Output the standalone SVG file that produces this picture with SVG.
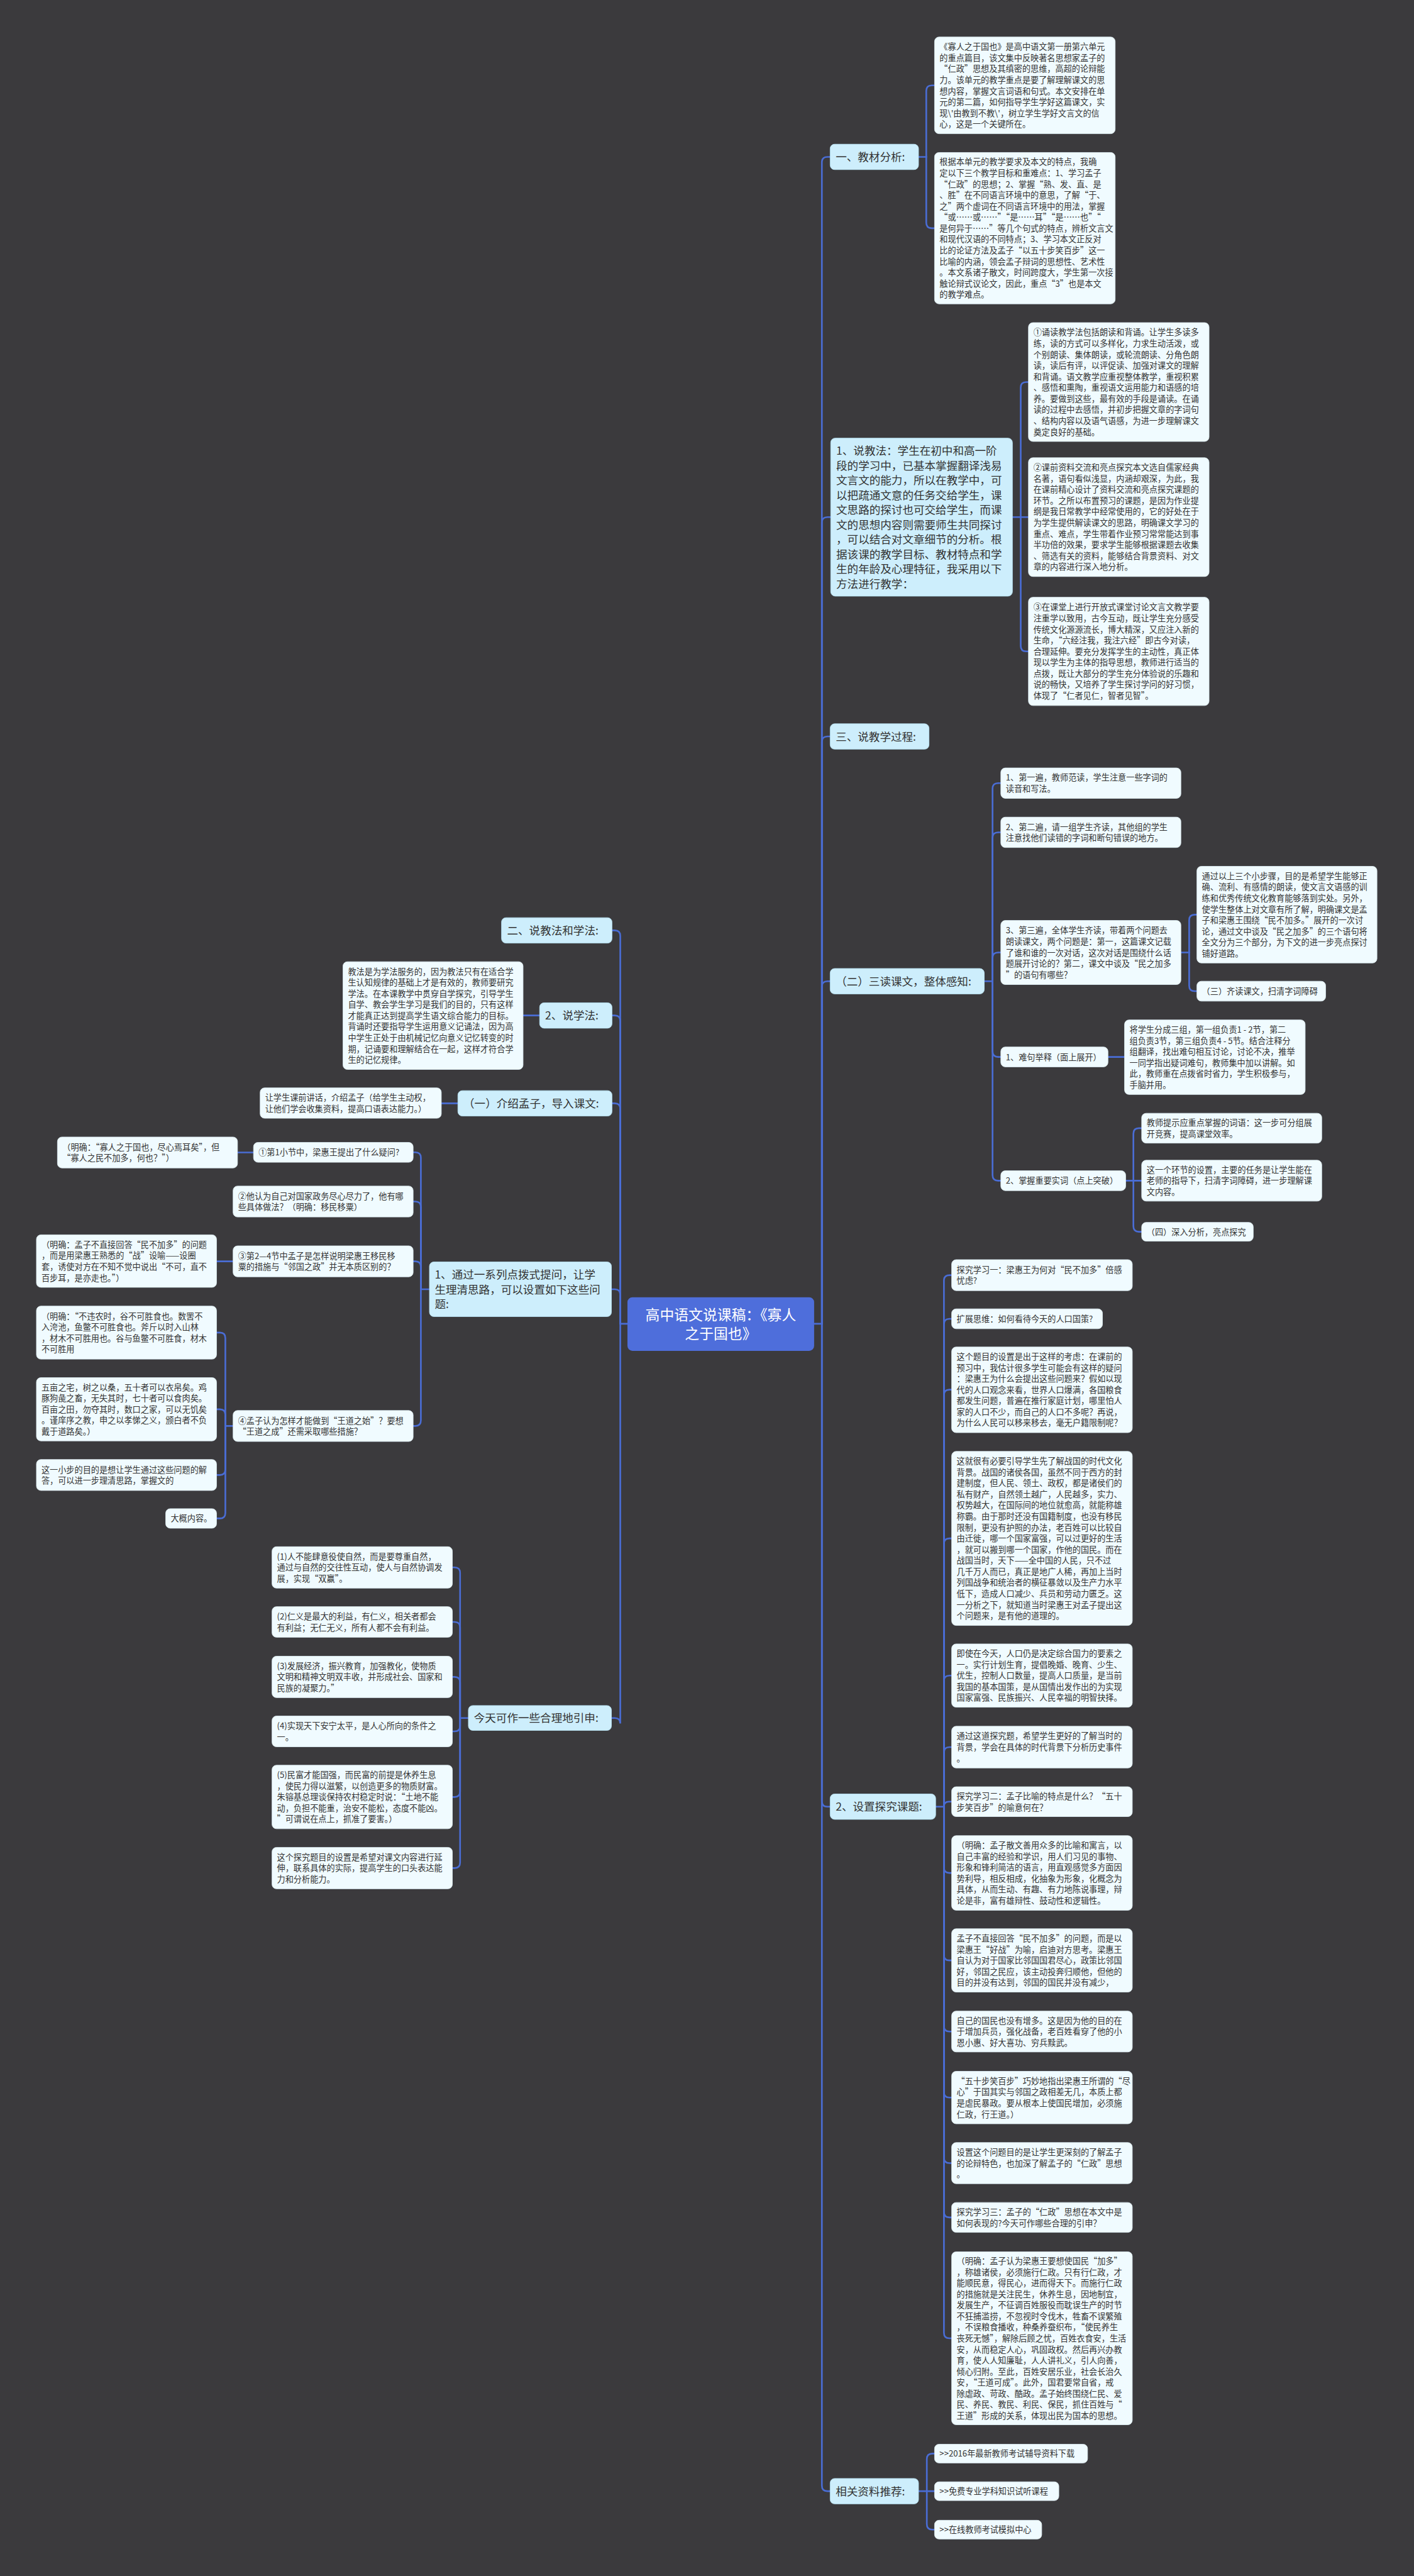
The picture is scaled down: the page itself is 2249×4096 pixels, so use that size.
<svg xmlns="http://www.w3.org/2000/svg" width="2249" height="4096" viewBox="0 0 2249 4096">
<style>
.leaf{fill:#f0fbff;stroke:#dfeef5;stroke-width:1}
.l1{fill:#cdeefc;stroke:#b9e3f5;stroke-width:1}
.root{fill:#4e6edb}
.t15{font-family:"Noto Sans CJK SC","Noto Sans",sans-serif;font-size:15px;fill:#333333}
.t20{font-family:"Noto Sans CJK SC","Noto Sans",sans-serif;font-size:20px;fill:#333333}
.t26{font-family:"Noto Sans CJK SC","Noto Sans",sans-serif;font-size:26px;fill:#ffffff}
.conn path{fill:none;stroke:#4a6dd5;stroke-width:3;stroke-linecap:round}
</style>
<rect width="2249" height="4096" fill="#3b3a3d"/>
<g transform="scale(0.8785)">
<g id="connectors" class="conn">
<path d="M1474,2396 H1488"/>
<path d="M1488,2396 V294 Q1488,284 1498,284 H1503"/>
<path d="M1488,2396 V946 Q1488,936 1498,936 H1504"/>
<path d="M1488,2396 V1343 Q1488,1333 1498,1333 H1503"/>
<path d="M1488,2396 V1786 Q1488,1776 1498,1776 H1503"/>
<path d="M1488,2396 V3260 Q1488,3270 1498,3270 H1503"/>
<path d="M1488,2396 V4499 Q1488,4509 1498,4509 H1503"/>
<path d="M1136,2396 H1123"/>
<path d="M1123,2396 V1694 Q1123,1684 1113,1684 H1108"/>
<path d="M1123,2396 V1848 Q1123,1838 1113,1838 H1108"/>
<path d="M1123,2396 V2007 Q1123,1997 1113,1997 H1108"/>
<path d="M1123,2396 V2343.5 Q1123,2333.5 1113,2333.5 H1107"/>
<path d="M1123,2396 V3119.5 Q1123,3109.5 1113,3109.5 H1107"/>
<path d="M1663,284 H1677"/>
<path d="M1677,284 V164.5 Q1677,154.5 1687,154.5 H1692"/>
<path d="M1677,284 V403 Q1677,413 1687,413 H1692"/>
<path d="M1833,936 H1862"/>
<path d="M1848,936 V701.5 Q1848,691.5 1858,691.5 H1862"/>
<path d="M1848,936 V1169 Q1848,1179 1858,1179 H1862"/>
<path d="M1782,1776 H1797"/>
<path d="M1797,1776 V1427.5 Q1797,1417.5 1807,1417.5 H1812"/>
<path d="M1797,1776 V1516.5 Q1797,1506.5 1807,1506.5 H1812"/>
<path d="M1797,1776 V1734 Q1797,1724 1807,1724 H1812"/>
<path d="M1797,1776 V1903 Q1797,1913 1807,1913 H1812"/>
<path d="M1797,1776 V2127 Q1797,2137 1807,2137 H1812"/>
<path d="M2138,1724 H2153"/>
<path d="M2153,1724 V1665.5 Q2153,1655.5 2163,1655.5 H2167"/>
<path d="M2153,1724 V1784 Q2153,1794 2163,1794 H2167"/>
<path d="M2006,1913 H2036"/>
<path d="M2038,2137 H2067"/>
<path d="M2052,2137 V2052 Q2052,2042 2062,2042 H2067"/>
<path d="M2052,2137 V2219.5 Q2052,2229.5 2062,2229.5 H2067"/>
<path d="M1694,3270 H1709"/>
<path d="M1709,3270 V2318 Q1709,2308 1719,2308 H1723"/>
<path d="M1709,3270 V2397 Q1709,2387 1719,2387 H1723"/>
<path d="M1709,3270 V2525.3 Q1709,2515.3 1719,2515.3 H1723"/>
<path d="M1709,3270 V2794.5 Q1709,2784.5 1719,2784.5 H1723"/>
<path d="M1709,3270 V3042.75 Q1709,3032.75 1719,3032.75 H1723"/>
<path d="M1709,3270 V3172.25 Q1709,3162.25 1719,3162.25 H1723"/>
<path d="M1709,3270 Q1709,3261 1718,3261 H1723"/>
<path d="M1709,3270 V3380 Q1709,3390 1719,3390 H1723"/>
<path d="M1709,3270 V3538.3 Q1709,3548.3 1719,3548.3 H1723"/>
<path d="M1709,3270 V3667 Q1709,3677 1719,3677 H1723"/>
<path d="M1709,3270 V3786.5 Q1709,3796.5 1719,3796.5 H1723"/>
<path d="M1709,3270 V3905.2 Q1709,3915.2 1719,3915.2 H1723"/>
<path d="M1709,3270 V4003.5 Q1709,4013.5 1719,4013.5 H1723"/>
<path d="M1709,3270 V4222.2 Q1709,4232.2 1719,4232.2 H1723"/>
<path d="M1663,4509 H1692"/>
<path d="M1678,4509 V4451 Q1678,4441 1688,4441 H1692"/>
<path d="M1678,4509 V4568.6 Q1678,4578.6 1688,4578.6 H1692"/>
<path d="M947,1838 H977"/>
<path d="M799,1997 H829"/>
<path d="M777,2333.5 H762"/>
<path d="M762,2333.5 V2095.7 Q762,2085.7 752,2085.7 H748"/>
<path d="M762,2333.5 V2184.7 Q762,2174.7 752,2174.7 H748"/>
<path d="M762,2333.5 V2293 Q762,2283 752,2283 H748"/>
<path d="M762,2333.5 V2571 Q762,2581 752,2581 H748"/>
<path d="M430,2086 H459"/>
<path d="M392,2283 H422"/>
<path d="M422,2581 H408"/>
<path d="M408,2581 V2422 Q408,2412 398,2412 H392"/>
<path d="M408,2581 V2560.75 Q408,2550.75 398,2550.75 H392"/>
<path d="M408,2581 V2659.7 Q408,2669.7 398,2669.7 H392"/>
<path d="M408,2581 V2738.35 Q408,2748.35 398,2748.35 H392"/>
<path d="M848,3109.5 H833"/>
<path d="M833,3109.5 V2847 Q833,2837 823,2837 H819"/>
<path d="M833,3109.5 V2945.7 Q833,2935.7 823,2935.7 H819"/>
<path d="M833,3109.5 V3045.2 Q833,3035.2 823,3035.2 H819"/>
<path d="M833,3109.5 V3123.8 Q833,3133.8 823,3133.8 H819"/>
<path d="M833,3109.5 V3242.5 Q833,3252.5 823,3252.5 H819"/>
<path d="M833,3109.5 V3371.2 Q833,3381.2 823,3381.2 H819"/>
</g>

<g id="root">
<rect class="root" x="1136" y="2348" width="338" height="97" rx="9"/>
<text class="t26" text-anchor="middle"><tspan x="1305" y="2389.5">高中语文说课稿：《寡人</tspan><tspan x="1305" y="2423.9">之于国也》</tspan></text>
</g>

<g id="n-jiaocai">
<rect class="l1" x="1503" y="261" width="160" height="46" rx="8"/>
<text class="t20" x="1513" y="291.6">一、教材分析:</text>
</g>
<g id="a1">
<rect class="leaf" x="1692" y="67" width="327" height="175" rx="8"/>
<text class="t15"><tspan x="1701" y="90.2">《寡人之于国也》是高中语文第一册第六单元</tspan><tspan x="1701" y="110.2">的重点篇目，该文集中反映著名思想家孟子的</tspan><tspan x="1701" y="130.2">“仁政”思想及其缜密的思维，高超的论辩能</tspan><tspan x="1701" y="150.2">力。该单元的教学重点是要了解理解课文的思</tspan><tspan x="1701" y="170.2">想内容，掌握文言词语和句式。本文安排在单</tspan><tspan x="1701" y="190.2">元的第二篇，如何指导学生学好这篇课文，实</tspan><tspan x="1701" y="210.2">现\'由教到不教\'，树立学生学好文言文的信</tspan><tspan x="1701" y="230.2">心，这是一个关键所在。</tspan></text>
</g>
<g id="a2">
<rect class="leaf" x="1692" y="276" width="327" height="274" rx="8"/>
<text class="t15"><tspan x="1701" y="298.7">根据本单元的教学要求及本文的特点，我确</tspan><tspan x="1701" y="318.7">定以下三个教学目标和重难点：1、学习孟子</tspan><tspan x="1701" y="338.7">“仁政”的思想；2、掌握“熟、发、直、是</tspan><tspan x="1701" y="358.7">、胜”在不同语言环境中的意思，了解“于、</tspan><tspan x="1701" y="378.7">之”两个虚词在不同语言环境中的用法，掌握</tspan><tspan x="1701" y="398.7">“或……或……”“是……耳”“是……也”“</tspan><tspan x="1701" y="418.7">是何异于……”等几个句式的特点，辨析文言文</tspan><tspan x="1701" y="438.7">和现代汉语的不同特点；3、学习本文正反对</tspan><tspan x="1701" y="458.7">比的论证方法及孟子“以五十步笑百步”这一</tspan><tspan x="1701" y="478.7">比喻的内涵，领会孟子辩词的思想性、艺术性</tspan><tspan x="1701" y="498.7">。本文系诸子散文，时间跨度大，学生第一次接</tspan><tspan x="1701" y="518.7">触论辩式议论文，因此，重点“3”也是本文</tspan><tspan x="1701" y="538.7">的教学难点。</tspan></text>
</g>

<g id="n-shuojiaofa">
<rect class="l1" x="1504" y="793" width="329" height="286" rx="8"/>
<text class="t20"><tspan x="1514" y="823">1、说教法：学生在初中和高一阶</tspan><tspan x="1514" y="849.8">段的学习中，已基本掌握翻译浅易</tspan><tspan x="1514" y="876.6">文言文的能力，所以在教学中，可</tspan><tspan x="1514" y="903.4">以把疏通文意的任务交给学生，课</tspan><tspan x="1514" y="930.2">文思路的探讨也可交给学生，而课</tspan><tspan x="1514" y="957">文的思想内容则需要师生共同探讨</tspan><tspan x="1514" y="983.8">，可以结合对文章细节的分析。根</tspan><tspan x="1514" y="1010.6">据该课的教学目标、教材特点和学</tspan><tspan x="1514" y="1037.4">生的年龄及心理特征，我采用以下</tspan><tspan x="1514" y="1064.2">方法进行教学：</tspan></text>
</g>
<g id="b1">
<rect class="leaf" x="1862" y="584" width="327" height="215" rx="8"/>
<text class="t15"><tspan x="1871" y="607.2">①诵读教学法包括朗读和背诵。让学生多读多</tspan><tspan x="1871" y="627.2">练，读的方式可以多样化，力求生动活泼，或</tspan><tspan x="1871" y="647.2">个别朗读、集体朗读，或轮流朗读、分角色朗</tspan><tspan x="1871" y="667.2">读，读后有评，以评促读、加强对课文的理解</tspan><tspan x="1871" y="687.2">和背诵。语文教学应重视整体教学，重视积累</tspan><tspan x="1871" y="707.2">、感悟和熏陶，重视语文运用能力和语感的培</tspan><tspan x="1871" y="727.2">养。要做到这些，最有效的手段是诵读。在诵</tspan><tspan x="1871" y="747.2">读的过程中去感悟，并初步把握文章的字词句</tspan><tspan x="1871" y="767.2">、结构内容以及语气语感，为进一步理解课文</tspan><tspan x="1871" y="787.2">奠定良好的基础。</tspan></text>
</g>
<g id="b2">
<rect class="leaf" x="1862" y="828.5" width="327" height="215" rx="8"/>
<text class="t15"><tspan x="1871" y="851.7">②课前资料交流和亮点探究本文选自儒家经典</tspan><tspan x="1871" y="871.7">名著，语句看似浅显，内涵却艰深，为此，我</tspan><tspan x="1871" y="891.7">在课前精心设计了资料交流和亮点探究课题的</tspan><tspan x="1871" y="911.7">环节。之所以布置预习的课题，是因为作业提</tspan><tspan x="1871" y="931.7">纲是我日常教学中经常使用的，它的好处在于</tspan><tspan x="1871" y="951.7">为学生提供解读课文的思路，明确课文学习的</tspan><tspan x="1871" y="971.7">重点、难点，学生带着作业预习常常能达到事</tspan><tspan x="1871" y="991.7">半功倍的效果，要求学生能够根据课题去收集</tspan><tspan x="1871" y="1011.7">、筛选有关的资料，能够结合背景资料、对文</tspan><tspan x="1871" y="1031.7">章的内容进行深入地分析。</tspan></text>
</g>
<g id="b3">
<rect class="leaf" x="1862" y="1081" width="327" height="196" rx="8"/>
<text class="t15"><tspan x="1871" y="1104.7">③在课堂上进行开放式课堂讨论文言文教学要</tspan><tspan x="1871" y="1124.7">注重学以致用，古今互动，既让学生充分感受</tspan><tspan x="1871" y="1144.7">传统文化源源流长，博大精深，又应注入新的</tspan><tspan x="1871" y="1164.7">生命，“六经注我，我注六经”即古今对读，</tspan><tspan x="1871" y="1184.7">合理延伸。要充分发挥学生的主动性，真正体</tspan><tspan x="1871" y="1204.7">现以学生为主体的指导思想，教师进行适当的</tspan><tspan x="1871" y="1224.7">点拨，既让大部分的学生充分体验说的乐趣和</tspan><tspan x="1871" y="1244.7">说的畅快，又培养了学生探讨学问的好习惯，</tspan><tspan x="1871" y="1264.7">体现了“仁者见仁，智者见智”。</tspan></text>
</g>

<g id="n-guocheng">
<rect class="l1" x="1503" y="1310" width="179" height="46" rx="8"/>
<text class="t20" x="1513" y="1340.6">三、说教学过程:</text>
</g>

<g id="n-sandu">
<rect class="l1" x="1503" y="1753" width="279" height="46" rx="8"/>
<text class="t20" x="1513" y="1783.6">（二）三读课文，整体感知:</text>
</g>
<g id="c1">
<rect class="leaf" x="1812" y="1390" width="326" height="55" rx="8"/>
<text class="t15"><tspan x="1821" y="1413.2">1、第一遍，教师范读，学生注意一些字词的</tspan><tspan x="1821" y="1433.2">读音和写法。</tspan></text>
</g>
<g id="c2">
<rect class="leaf" x="1812" y="1479" width="326" height="55" rx="8"/>
<text class="t15"><tspan x="1821" y="1502.2">2、第二遍，请一组学生齐读，其他组的学生</tspan><tspan x="1821" y="1522.2">注意找他们读错的字词和断句错误的地方。</tspan></text>
</g>
<g id="c3">
<rect class="leaf" x="1812" y="1666" width="326" height="116" rx="8"/>
<text class="t15"><tspan x="1821" y="1689.7">3、第三遍，全体学生齐读，带着两个问题去</tspan><tspan x="1821" y="1709.7">朗读课文，两个问题是：第一，这篇课文记载</tspan><tspan x="1821" y="1729.7">了谁和谁的一次对话，这次对话是围绕什么话</tspan><tspan x="1821" y="1749.7">题展开讨论的？第二，课文中谈及“民之加多</tspan><tspan x="1821" y="1769.7">”的语句有哪些？</tspan></text>
</g>
<g id="c3a">
<rect class="leaf" x="2167" y="1568" width="326" height="175" rx="8"/>
<text class="t15"><tspan x="2176" y="1591.2">通过以上三个小步骤，目的是希望学生能够正</tspan><tspan x="2176" y="1611.2">确、流利、有感情的朗读，使文言文语感的训</tspan><tspan x="2176" y="1631.2">练和优秀传统文化教育能够落到实处。另外，</tspan><tspan x="2176" y="1651.2">使学生整体上对文章有所了解，明确课文是孟</tspan><tspan x="2176" y="1671.2">子和梁惠王围绕“民不加多。”展开的一次讨</tspan><tspan x="2176" y="1691.2">论，通过文中谈及“民之加多”的三个语句将</tspan><tspan x="2176" y="1711.2">全文分为三个部分，为下文的进一步亮点探讨</tspan><tspan x="2176" y="1731.2">铺好道路。</tspan></text>
</g>
<g id="c3b">
<rect class="leaf" x="2167" y="1776" width="233" height="36" rx="8"/>
<text class="t15" x="2176" y="1799.7">（三）齐读课文，扫清字词障碍</text>
</g>
<g id="c4">
<rect class="leaf" x="1812" y="1895" width="194" height="36" rx="8"/>
<text class="t15" x="1821" y="1918.7">1、难句举释（面上展开）</text>
</g>
<g id="c4a">
<rect class="leaf" x="2036" y="1846" width="327" height="135" rx="8"/>
<text class="t15"><tspan x="2045" y="1869.2">将学生分成三组，第一组负责1 - 2节，第二</tspan><tspan x="2045" y="1889.2">组负责3节，第三组负责4 - 5节。结合注释分</tspan><tspan x="2045" y="1909.2">组翻译，找出难句相互讨论，讨论不决，推举</tspan><tspan x="2045" y="1929.2">一同学指出疑词难句，教师集中加以讲解。如</tspan><tspan x="2045" y="1949.2">此，教师重在点拨省时省力，学生积极参与，</tspan><tspan x="2045" y="1969.2">手脑并用。</tspan></text>
</g>
<g id="c5">
<rect class="leaf" x="1812" y="2119" width="226" height="36" rx="8"/>
<text class="t15" x="1821" y="2142.7">2、掌握重要实词（点上突破）</text>
</g>
<g id="c5a">
<rect class="leaf" x="2067" y="2015" width="326" height="54" rx="8"/>
<text class="t15"><tspan x="2076" y="2037.7">教师提示应重点掌握的词语：这一步可分组展</tspan><tspan x="2076" y="2057.7">开竞赛，提高课堂效率。</tspan></text>
</g>
<g id="c5b">
<rect class="leaf" x="2067" y="2100" width="326" height="74" rx="8"/>
<text class="t15"><tspan x="2076" y="2122.7">这一个环节的设置，主要的任务是让学生能在</tspan><tspan x="2076" y="2142.7">老师的指导下，扫清字词障碍，进一步理解课</tspan><tspan x="2076" y="2162.7">文内容。</tspan></text>
</g>
<g id="c5c">
<rect class="leaf" x="2067" y="2212.5" width="202" height="34" rx="8"/>
<text class="t15" x="2076" y="2235.2">（四）深入分析，亮点探究</text>
</g>

<g id="n-tanjiu">
<rect class="l1" x="1503" y="3247" width="191" height="46" rx="8"/>
<text class="t20" x="1513" y="3277.6">2、设置探究课题:</text>
</g>
<g id="d1">
<rect class="leaf" x="1723" y="2280" width="327" height="56" rx="8"/>
<text class="t15"><tspan x="1732" y="2303.7">探究学习一：梁惠王为何对“民不加多”倍感</tspan><tspan x="1732" y="2323.7">忧虑?</tspan></text>
</g>
<g id="d2">
<rect class="leaf" x="1723" y="2369" width="273" height="36" rx="8"/>
<text class="t15" x="1732" y="2392.7">扩展思维：如何看待今天的人口国策?</text>
</g>
<g id="d3">
<rect class="leaf" x="1723" y="2438" width="327" height="155" rx="8"/>
<text class="t15"><tspan x="1732" y="2461">这个题目的设置是出于这样的考虑：在课前的</tspan><tspan x="1732" y="2481">预习中，我估计很多学生可能会有这样的疑问</tspan><tspan x="1732" y="2501">：梁惠王为什么会提出这些问题来？假如以现</tspan><tspan x="1732" y="2521">代的人口观念来看，世界人口爆满，各国粮食</tspan><tspan x="1732" y="2541">都发生问题，普遍在推行家庭计划，哪里怕人</tspan><tspan x="1732" y="2561">家的人口不少，而自己的人口不多呢？再说，</tspan><tspan x="1732" y="2581">为什么人民可以移来移去，毫无户籍限制呢？</tspan></text>
</g>
<g id="d4">
<rect class="leaf" x="1723" y="2627" width="327" height="315" rx="8"/>
<text class="t15"><tspan x="1732" y="2650.2">这就很有必要引导学生先了解战国的时代文化</tspan><tspan x="1732" y="2670.2">背景。战国的诸侯各国，虽然不同于西方的封</tspan><tspan x="1732" y="2690.2">建制度，但人民、领土、政权，都是诸侯们的</tspan><tspan x="1732" y="2710.2">私有财产，自然领土越广，人民越多，实力、</tspan><tspan x="1732" y="2730.2">权势越大，在国际间的地位就愈高，就能称雄</tspan><tspan x="1732" y="2750.2">称霸。由于那时还没有国籍制度，也没有移民</tspan><tspan x="1732" y="2770.2">限制，更没有护照的办法，老百姓可以比较自</tspan><tspan x="1732" y="2790.2">由迁徙，哪一个国家富强，可以过更好的生活</tspan><tspan x="1732" y="2810.2">，就可以搬到哪一个国家，作他的国民。而在</tspan><tspan x="1732" y="2830.2">战国当时，天下——全中国的人民，只不过</tspan><tspan x="1732" y="2850.2">几千万人而已，真正是地广人稀，再加上当时</tspan><tspan x="1732" y="2870.2">列国战争和统治者的横征暴敛以及生产力水平</tspan><tspan x="1732" y="2890.2">低下，造成人口减少、兵员和劳动力匮乏。这</tspan><tspan x="1732" y="2910.2">一分析之下，就知道当时梁惠王对孟子提出这</tspan><tspan x="1732" y="2930.2">个问题来，是有他的道理的。</tspan></text>
</g>
<g id="d5">
<rect class="leaf" x="1723" y="2975.5" width="327" height="114.5" rx="8"/>
<text class="t15"><tspan x="1732" y="2998.45">即使在今天，人口仍是决定综合国力的要素之</tspan><tspan x="1732" y="3018.45">一。实行计划生育，提倡晚婚、晚育、少生、</tspan><tspan x="1732" y="3038.45">优生，控制人口数量，提高人口质量，是当前</tspan><tspan x="1732" y="3058.45">我国的基本国策，是从国情出发作出的为实现</tspan><tspan x="1732" y="3078.45">国家富强、民族振兴、人民幸福的明智抉择。</tspan></text>
</g>
<g id="d6">
<rect class="leaf" x="1723" y="3124.5" width="327" height="75.5" rx="8"/>
<text class="t15"><tspan x="1732" y="3147.95">通过这道探究题，希望学生更好的了解当时的</tspan><tspan x="1732" y="3167.95">背景，学会在具体的时代背景下分析历史事件</tspan><tspan x="1732" y="3187.95">。</tspan></text>
</g>
<g id="d7">
<rect class="leaf" x="1723" y="3234" width="327" height="54" rx="8"/>
<text class="t15"><tspan x="1732" y="3256.7">探究学习二：孟子比喻的特点是什么？“五十</tspan><tspan x="1732" y="3276.7">步笑百步”的喻意何在？</tspan></text>
</g>
<g id="d8">
<rect class="leaf" x="1723" y="3322.5" width="327" height="135" rx="8"/>
<text class="t15"><tspan x="1732" y="3345.7">（明确：孟子散文善用众多的比喻和寓言，以</tspan><tspan x="1732" y="3365.7">自己丰富的经验和学识，用人们习见的事物、</tspan><tspan x="1732" y="3385.7">形象和锋利简洁的语言，用直观感觉多方面因</tspan><tspan x="1732" y="3405.7">势利导，相反相成，化抽象为形象，化概念为</tspan><tspan x="1732" y="3425.7">具体，从而生动、有趣、有力地陈说事理，辩</tspan><tspan x="1732" y="3445.7">论是非，富有雄辩性、鼓动性和逻辑性。</tspan></text>
</g>
<g id="d9">
<rect class="leaf" x="1723" y="3491" width="327" height="114.6" rx="8"/>
<text class="t15"><tspan x="1732" y="3514">孟子不直接回答“民不加多”的问题，而是以</tspan><tspan x="1732" y="3534">梁惠王“好战”为喻，启迪对方思考。梁惠王</tspan><tspan x="1732" y="3554">自认为对于国家比邻国国君尽心，政策比邻国</tspan><tspan x="1732" y="3574">好，邻国之民应，该主动投奔归顺他，但他的</tspan><tspan x="1732" y="3594">目的并没有达到，邻国的国民并没有减少，</tspan></text>
</g>
<g id="d10">
<rect class="leaf" x="1723" y="3640" width="327" height="74" rx="8"/>
<text class="t15"><tspan x="1732" y="3662.7">自己的国民也没有增多。这是因为他的目的在</tspan><tspan x="1732" y="3682.7">于增加兵员，强化战备，老百姓看穿了他的小</tspan><tspan x="1732" y="3702.7">恩小惠、好大喜功、穷兵黩武。</tspan></text>
</g>
<g id="d11">
<rect class="leaf" x="1723" y="3749" width="327" height="95" rx="8"/>
<text class="t15"><tspan x="1732" y="3772.2">“五十步笑百步”巧妙地指出梁惠王所谓的“尽</tspan><tspan x="1732" y="3792.2">心”于国其实与邻国之政相差无几，本质上都</tspan><tspan x="1732" y="3812.2">是虐民暴政。要从根本上使国民增加，必须施</tspan><tspan x="1732" y="3832.2">仁政，行王道。）</tspan></text>
</g>
<g id="d12">
<rect class="leaf" x="1723" y="3878" width="327" height="74.4" rx="8"/>
<text class="t15"><tspan x="1732" y="3900.9">设置这个问题目的是让学生更深刻的了解孟子</tspan><tspan x="1732" y="3920.9">的论辩特色，也加深了解孟子的“仁政”思想</tspan><tspan x="1732" y="3940.9">。</tspan></text>
</g>
<g id="d13">
<rect class="leaf" x="1723" y="3986.5" width="327" height="54" rx="8"/>
<text class="t15"><tspan x="1732" y="4009.2">探究学习三：孟子的“仁政”思想在本文中是</tspan><tspan x="1732" y="4029.2">如何表现的?今天可作哪些合理的引申？</tspan></text>
</g>
<g id="d14">
<rect class="leaf" x="1723" y="4075.7" width="327" height="313" rx="8"/>
<text class="t15"><tspan x="1732" y="4097.9">（明确：孟子认为梁惠王要想使国民“加多”</tspan><tspan x="1732" y="4117.9">，称雄诸侯，必须施行仁政。只有行仁政，才</tspan><tspan x="1732" y="4137.9">能顺民意，得民心，进而得天下。而施行仁政</tspan><tspan x="1732" y="4157.9">的措施就是关注民生，休养生息，因地制宜，</tspan><tspan x="1732" y="4177.9">发展生产，不征调百姓服役而耽误生产的时节</tspan><tspan x="1732" y="4197.9">不狂捕滥捞，不忽视时令伐木，牲畜不误繁殖</tspan><tspan x="1732" y="4217.9">，不误粮食播收，种桑养蚕织布，“使民养生</tspan><tspan x="1732" y="4237.9">丧死无憾”，解除后顾之忧，百姓衣食安，生活</tspan><tspan x="1732" y="4257.9">安，从而稳定人心，巩固政权。然后再兴办教</tspan><tspan x="1732" y="4277.9">育，使人人知廉耻，人人讲礼义，引人向善，</tspan><tspan x="1732" y="4297.9">倾心归附。至此，百姓安居乐业，社会长治久</tspan><tspan x="1732" y="4317.9">安，“王道可成”。此外，国君要常自省，戒</tspan><tspan x="1732" y="4337.9">除虐政、苛政、酷政。孟子始终围绕仁民、爱</tspan><tspan x="1732" y="4357.9">民、养民、教民、利民、保民，抓住百姓与“</tspan><tspan x="1732" y="4377.9">王道”形成的关系，体现出民为国本的思想。</tspan></text>
</g>

<g id="n-ziliao">
<rect class="l1" x="1503" y="4486" width="160" height="46" rx="8"/>
<text class="t20" x="1513" y="4516.6">相关资料推荐:</text>
</g>
<g id="e1">
<rect class="leaf" x="1692" y="4424" width="277" height="34" rx="8"/>
<text class="t15" x="1701" y="4446.7">&gt;&gt;2016年最新教师考试辅导资料下载</text>
</g>
<g id="e2">
<rect class="leaf" x="1692" y="4492" width="225" height="34" rx="8"/>
<text class="t15" x="1701" y="4514.7">&gt;&gt;免费专业学科知识试听课程</text>
</g>
<g id="e3">
<rect class="leaf" x="1692" y="4561.6" width="194" height="34" rx="8"/>
<text class="t15" x="1701" y="4584.3">&gt;&gt;在线教师考试模拟中心</text>
</g>

<g id="m-jiaofa">
<rect class="l1" x="908" y="1661" width="200" height="46" rx="8"/>
<text class="t20" x="918" y="1691.6">二、说教法和学法:</text>
</g>
<g id="m-xuefa">
<rect class="l1" x="977" y="1815" width="131" height="46" rx="8"/>
<text class="t20" x="987" y="1845.6">2、说学法:</text>
</g>
<g id="f1">
<rect class="leaf" x="621" y="1740.7" width="326" height="195" rx="8"/>
<text class="t15"><tspan x="630" y="1763.9">教法是为学法服务的，因为教法只有在适合学</tspan><tspan x="630" y="1783.9">生认知规律的基础上才是有效的，教师要研究</tspan><tspan x="630" y="1803.9">学法。在本课教学中贯穿自学探究，引导学生</tspan><tspan x="630" y="1823.9">自学、教会学生学习是我们的目的，只有这样</tspan><tspan x="630" y="1843.9">才能真正达到提高学生语文综合能力的目标。</tspan><tspan x="630" y="1863.9">背诵时还要指导学生运用意义记诵法，因为高</tspan><tspan x="630" y="1883.9">中学生正处于由机械记忆向意义记忆转变的时</tspan><tspan x="630" y="1903.9">期，记诵要和理解结合在一起，这样才符合学</tspan><tspan x="630" y="1923.9">生的记忆规律。</tspan></text>
</g>
<g id="m-mengzi">
<rect class="l1" x="829" y="1974" width="279" height="46" rx="8"/>
<text class="t20" x="839" y="2004.6">（一）介绍孟子，导入课文:</text>
</g>
<g id="f2">
<rect class="leaf" x="471" y="1969" width="328" height="55" rx="8"/>
<text class="t15"><tspan x="480" y="1992.2">让学生课前讲话，介绍孟子（给学生主动权，</tspan><tspan x="480" y="2012.2">让他们学会收集资料，提高口语表达能力。）</tspan></text>
</g>

<g id="m-tiwen">
<rect class="l1" x="777.5" y="2284" width="329.5" height="99" rx="8"/>
<text class="t20"><tspan x="787" y="2314.3">1、通过一系列点拨式提问，让学</tspan><tspan x="787" y="2341.1">生理清思路，可以设置如下这些问</tspan><tspan x="787" y="2367.9">题:</tspan></text>
</g>
<g id="g1">
<rect class="leaf" x="459" y="2067.7" width="289" height="36" rx="8"/>
<text class="t15" x="468" y="2091.4">①第1小节中，梁惠王提出了什么疑问?</text>
</g>
<g id="g1a">
<rect class="leaf" x="104" y="2058" width="326" height="56" rx="8"/>
<text class="t15"><tspan x="113" y="2081.7">（明确：“寡人之于国也，尽心焉耳矣”，但</tspan><tspan x="113" y="2101.7">“寡人之民不加多，何也？”）</tspan></text>
</g>
<g id="g2">
<rect class="leaf" x="422" y="2146.7" width="326" height="56" rx="8"/>
<text class="t15"><tspan x="431" y="2170.4">②他认为自己对国家政务尽心尽力了，他有哪</tspan><tspan x="431" y="2190.4">些具体做法？（明确：移民移粟）</tspan></text>
</g>
<g id="g3">
<rect class="leaf" x="422" y="2255" width="326" height="56" rx="8"/>
<text class="t15"><tspan x="431" y="2278.7">③第2—4节中孟子是怎样说明梁惠王移民移</tspan><tspan x="431" y="2298.7">粟的措施与“邻国之政”并无本质区别的？</tspan></text>
</g>
<g id="g3a">
<rect class="leaf" x="66" y="2235" width="326" height="95" rx="8"/>
<text class="t15"><tspan x="75" y="2258.2">（明确：孟子不直接回答“民不加多”的问题</tspan><tspan x="75" y="2278.2">，而是用梁惠王熟悉的“战”设喻——设圈</tspan><tspan x="75" y="2298.2">套，诱使对方在不知不觉中说出“不可，直不</tspan><tspan x="75" y="2318.2">百步耳，是亦走也。”）</tspan></text>
</g>
<g id="g4">
<rect class="leaf" x="422" y="2553" width="326" height="56" rx="8"/>
<text class="t15"><tspan x="431" y="2576.7">④孟子认为怎样才能做到“王道之始”？要想</tspan><tspan x="431" y="2596.7">“王道之成”还需采取哪些措施？</tspan></text>
</g>
<g id="g4a">
<rect class="leaf" x="66" y="2364" width="326" height="96" rx="8"/>
<text class="t15"><tspan x="75" y="2387.7">（明确：“不违农时，谷不可胜食也。数罟不</tspan><tspan x="75" y="2407.7">入洿池，鱼鳖不可胜食也。斧斤以时入山林</tspan><tspan x="75" y="2427.7">，材木不可胜用也。谷与鱼鳖不可胜食，材木</tspan><tspan x="75" y="2447.7">不可胜用</tspan></text>
</g>
<g id="g4b">
<rect class="leaf" x="66" y="2493.5" width="326" height="114.5" rx="8"/>
<text class="t15"><tspan x="75" y="2516.45">五亩之宅，树之以桑，五十者可以衣帛矣。鸡</tspan><tspan x="75" y="2536.45">豚狗彘之畜，无失其时，七十者可以食肉矣。</tspan><tspan x="75" y="2556.45">百亩之田，勿夺其时，数口之家，可以无饥矣</tspan><tspan x="75" y="2576.45">。谨庠序之教，申之以孝悌之义，颁白者不负</tspan><tspan x="75" y="2596.45">戴于道路矣。）</tspan></text>
</g>
<g id="g4c">
<rect class="leaf" x="66" y="2641.7" width="326" height="56" rx="8"/>
<text class="t15"><tspan x="75" y="2665.4">这一小步的目的是想让学生通过这些问题的解</tspan><tspan x="75" y="2685.4">答，可以进一步理清思路，掌握文的</tspan></text>
</g>
<g id="g4d">
<rect class="leaf" x="300" y="2730.7" width="92" height="35.3" rx="8"/>
<text class="t15" x="309" y="2754">大概内容。</text>
</g>

<g id="m-yinshen">
<rect class="l1" x="848" y="3087" width="259" height="45" rx="8"/>
<text class="t20" x="858" y="3117.1">今天可作一些合理地引申:</text>
</g>
<g id="h1">
<rect class="leaf" x="492.5" y="2799.5" width="326.5" height="75" rx="8"/>
<text class="t15"><tspan x="501.5" y="2822.7">(1)人不能肆意役使自然，而是要尊重自然，</tspan><tspan x="501.5" y="2842.7">通过与自然的交往性互动，使人与自然协调发</tspan><tspan x="501.5" y="2862.7">展，实现“双赢”。</tspan></text>
</g>
<g id="h2">
<rect class="leaf" x="492.5" y="2908" width="326.5" height="55.4" rx="8"/>
<text class="t15"><tspan x="501.5" y="2931.4">(2)仁义是最大的利益，有仁义，相关者都会</tspan><tspan x="501.5" y="2951.4">有利益；无仁无义，所有人都不会有利益。</tspan></text>
</g>
<g id="h3">
<rect class="leaf" x="492.5" y="2997.7" width="326.5" height="75" rx="8"/>
<text class="t15"><tspan x="501.5" y="3020.9">(3)发展经济，振兴教育，加强教化，使物质</tspan><tspan x="501.5" y="3040.9">文明和精神文明双丰收，并形成社会、国家和</tspan><tspan x="501.5" y="3060.9">民族的凝聚力。”</tspan></text>
</g>
<g id="h4">
<rect class="leaf" x="492.5" y="3106" width="326.5" height="55.6" rx="8"/>
<text class="t15"><tspan x="501.5" y="3129.5">(4)实现天下安宁太平，是人心所向的条件之</tspan><tspan x="501.5" y="3149.5">一。</tspan></text>
</g>
<g id="h5">
<rect class="leaf" x="492.5" y="3195" width="326.5" height="115" rx="8"/>
<text class="t15"><tspan x="501.5" y="3218.2">(5)民富才能国强，而民富的前提是休养生息</tspan><tspan x="501.5" y="3238.2">，使民力得以滋繁，以创造更多的物质财富。</tspan><tspan x="501.5" y="3258.2">朱镕基总理谈保持农村稳定时说：“土地不能</tspan><tspan x="501.5" y="3278.2">动，负担不能重，治安不能松，态度不能凶。</tspan><tspan x="501.5" y="3298.2">”可谓说在点上，抓准了要害。）</tspan></text>
</g>
<g id="h6">
<rect class="leaf" x="492.5" y="3343.7" width="326.5" height="75" rx="8"/>
<text class="t15"><tspan x="501.5" y="3366.9">这个探究题目的设置是希望对课文内容进行延</tspan><tspan x="501.5" y="3386.9">伸，联系具体的实际，提高学生的口头表达能</tspan><tspan x="501.5" y="3406.9">力和分析能力。</tspan></text>
</g>
</g>
</svg>
